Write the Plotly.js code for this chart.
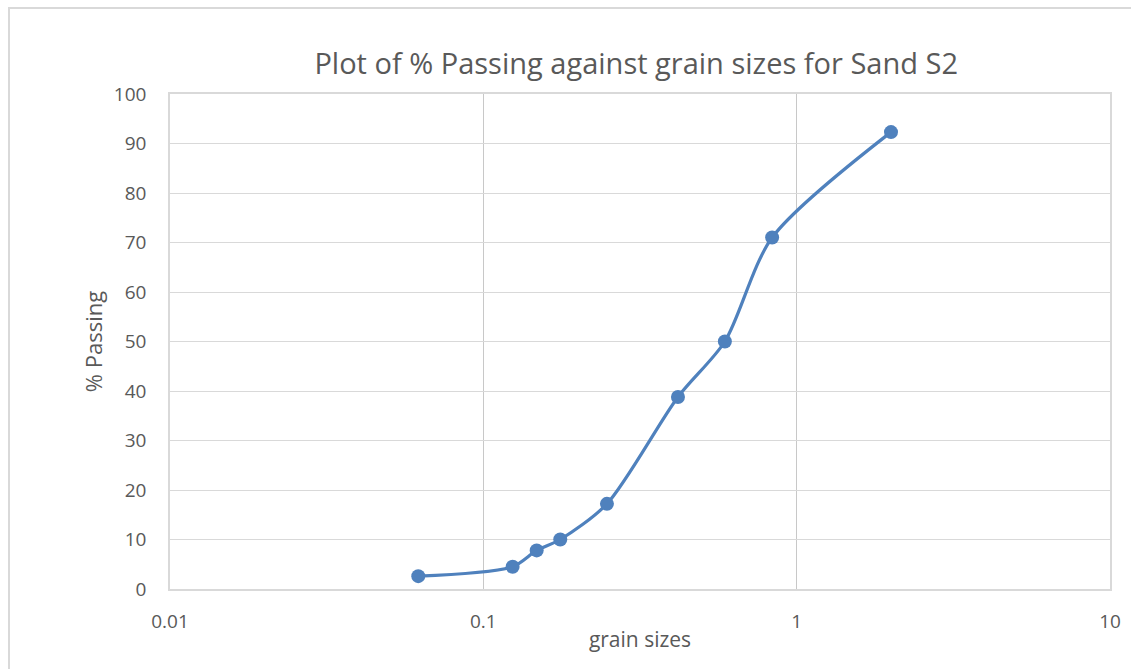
<!DOCTYPE html>
<html>
<head>
<meta charset="utf-8">
<script src="https://cdn.plot.ly/plotly-3.0.1.min.js"></script>
<style>
  html, body { margin: 0; padding: 0; background: #fff; }
  #frame { position: absolute; left: 8px; top: 7px; width: 1200px; height: 700px;
           border-left: 2px solid #d9d9d9; border-top: 2px solid #d9d9d9; pointer-events: none; }
  #chart { position: absolute; left: 0; top: 0; width: 1131px; height: 669px; }
</style>
</head>
<body>
<div id="chart"></div>
<div id="frame"></div>
<script>
// Sieve analysis data for Sand S2
const grainSizes = [0.062, 0.124, 0.148, 0.176, 0.248, 0.418, 0.59, 0.835, 2.0];
const percentPassing = [2.6, 4.5, 7.8, 10.0, 17.2, 38.8, 50.0, 71.0, 92.3];
const xTickVals = [0.01, 0.1, 1, 10];
const xTickText = ['0.01', '0.1', '1', '10'];
const yTickVals = [0, 10, 20, 30, 40, 50, 60, 70, 80, 90, 100];

const FONT = '"Open Sans", sans-serif';
const TXT = '#595959';

const trace = {
  x: grainSizes,
  y: percentPassing,
  type: 'scatter',
  mode: 'lines+markers',
  line: { color: '#4f81bd', width: 3.2, shape: 'spline', smoothing: 0.8 },
  marker: { color: '#4f81bd', size: 14 },
  showlegend: false,
  hoverinfo: 'x+y'
};

const layout = {
  width: 1131,
  height: 669,
  margin: { l: 170, r: 21, t: 94, b: 80 },
  paper_bgcolor: '#ffffff',
  plot_bgcolor: '#ffffff',
  font: { family: FONT, color: TXT, size: 18 },
  title: {
    text: 'Plot of % Passing against grain sizes for Sand S2',
    font: { family: FONT, size: 29, color: TXT },
    x: 0.5625, xanchor: 'center',
    y: 0.905, yanchor: 'middle'
  },
  xaxis: {
    type: 'log',
    range: [-2, 1],
    tickvals: xTickVals,
    ticktext: xTickText,
    ticks: '',
    ticklabelstandoff: 14,
    showgrid: true,
    gridcolor: '#c8c8c8',
    gridwidth: 1,
    showline: true,
    linecolor: '#d9d9d9',
    linewidth: 1.5,
    mirror: true,
    zeroline: false,
    tickfont: { family: FONT, size: 19, color: TXT },
    title: { text: 'grain sizes', font: { family: FONT, size: 21, color: TXT }, standoff: 0 }
  },
  yaxis: {
    range: [0, 100],
    tickvals: yTickVals,
    ticks: '',
    ticklabelstandoff: 18,
    showgrid: true,
    gridcolor: '#d9d9d9',
    gridwidth: 1,
    showline: true,
    linecolor: '#d9d9d9',
    linewidth: 1.5,
    mirror: true,
    zeroline: false,
    tickfont: { family: FONT, size: 19, color: TXT },
    title: { text: '% Passing', font: { family: FONT, size: 22, color: TXT }, standoff: 5 }
  }
};

Plotly.newPlot('chart', [trace], layout, { displayModeBar: false });
</script>
</body>
</html>
